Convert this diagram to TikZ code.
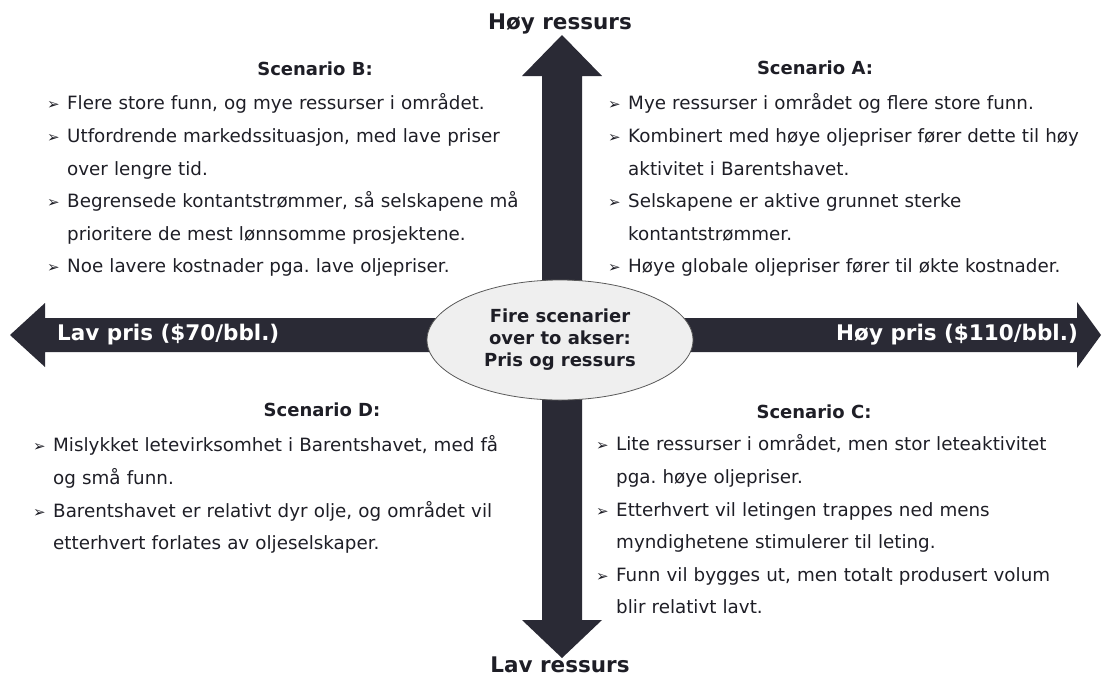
\documentclass[tikz,border=0pt]{standalone}
\usepackage{fontspec}
\setmainfont{DejaVu Sans}
\usetikzlibrary{shapes.geometric}
\frenchspacing
\definecolor{arrowc}{HTML}{2A2A35}
\definecolor{txtc}{HTML}{1E1E26}
\definecolor{ellfill}{HTML}{EFEFEF}
\definecolor{elldraw}{HTML}{5A5A5A}
\newcommand{\bul}{{\fontsize{15}{15}\selectfont ➢}}
\newcommand{\nl}{\hfil\break}
\newcommand{\bitem}[1]{\par\hangindent=20pt\hangafter=1\noindent\makebox[20pt][l]{\bul}#1\par}
\begin{document}
\begin{tikzpicture}[x=1pt,y=-1pt,
  body/.style={anchor=north west, inner sep=0pt, text width=540pt, align=left,
    font=\fontsize{18.3}{32.6}\selectfont\frenchspacing, text=txtc},
  head/.style={font=\bfseries\fontsize{18}{22}\selectfont, text=txtc, inner sep=0pt},
  axislabel/.style={font=\bfseries\fontsize{21.5}{24}\selectfont, inner sep=0pt},
  bigarrow/.style={fill=arrowc},
  centre/.style={ellipse, fill=ellfill, draw=elldraw, line width=0.8pt,
    minimum width=266pt, minimum height=120pt, inner sep=0pt, align=center,
    font=\bfseries\fontsize{18}{22}\selectfont, text=txtc}]
\useasboundingbox (0,0) rectangle (1102,678);
% vertical axis
\coordinate (vtop) at (562,35);
\coordinate (vbot) at (562,658);
\fill[bigarrow] (vtop) -- (602,76) -- (582,76) -- (582,620) -- (602,620) -- (vbot)
  -- (522,620) -- (542,620) -- (542,76) -- (522,76) -- cycle;
% horizontal axis
\coordinate (hleft) at (10,335);
\coordinate (hright) at (1101,335);
\fill[bigarrow] (hleft) -- (45,303) -- (45,318) -- (1077,318) -- (1077,302) -- (hright)
  -- (1077,368) -- (1077,352) -- (45,352) -- (45,367) -- cycle;
% centre
\node[centre] (mid) at (560,340) {Fire scenarier\\over to akser:\\Pris og ressurs};
% axis labels
\node[axislabel, text=txtc] (hoyres) at (560,24) {Høy ressurs};
\node[axislabel, text=txtc] (lavres) at (560,665) {Lav ressurs};
\node[axislabel, text=white, anchor=west] (lavpris) at (57,335) {Lav pris (\$70/bbl.)};
\node[axislabel, text=white, anchor=east] (hoypris) at (1078,335) {Høy pris (\$110/bbl.)};
% scenario headings
\node[head] (hB) at (315,69) {Scenario B:};
\node[head] (hA) at (815,68) {Scenario A:};
\node[head] (hD) at (322,410) {Scenario D:};
\node[head] (hC) at (814,412) {Scenario C:};
% scenario texts
\node[body] (tB) at (47,77) {%
\bitem{Flere store funn, og mye ressurser i området.}
\bitem{Utfordrende markedssituasjon, med lave priser\nl over lengre tid.}
\bitem{Begrensede kontantstrømmer, så selskapene må\nl prioritere de mest lønnsomme prosjektene.}
\bitem{Noe lavere kostnader pga. lave oljepriser.}};
\node[body] (tA) at (608,77) {%
\bitem{Mye ressurser i området og flere store funn.}
\bitem{Kombinert med høye oljepriser fører dette til høy\nl aktivitet i Barentshavet.}
\bitem{Selskapene er aktive grunnet sterke\nl kontantstrømmer.}
\bitem{Høye globale oljepriser fører til økte kostnader.}};
\node[body] (tD) at (33,419) {%
\bitem{Mislykket letevirksomhet i Barentshavet, med få\nl og små funn.}
\bitem{Barentshavet er relativt dyr olje, og området vil\nl etterhvert forlates av oljeselskaper.}};
\node[body] (tC) at (596,418) {%
\bitem{Lite ressurser i området, men stor leteaktivitet\nl pga. høye oljepriser.}
\bitem{Etterhvert vil letingen trappes ned mens\nl myndighetene stimulerer til leting.}
\bitem{Funn vil bygges ut, men totalt produsert volum\nl blir relativt lavt.}};
\end{tikzpicture}
\end{document}
